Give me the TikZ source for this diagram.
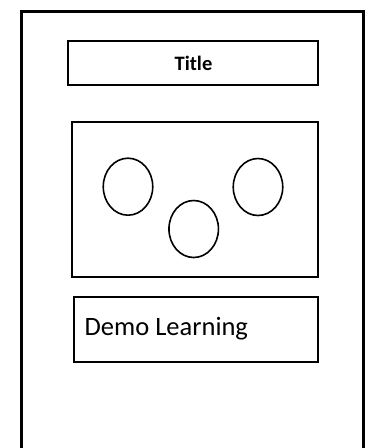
\documentclass[tikz,border=0pt]{standalone}
\usepackage{fontspec}
\setmainfont{Carlito}
\usetikzlibrary{shapes.geometric}
\begin{document}
\begin{tikzpicture}[x=1pt,y=-1pt,
  box/.style={draw=black,line width=#1,inner sep=0pt,rectangle},
  oval/.style={draw=black,line width=1.6pt,ellipse,inner sep=0pt,minimum width=49.5pt,minimum height=57pt}]
\useasboundingbox (0,0) rectangle (365,448);
\clip (0,0) rectangle (365,448);
\fill[white] (0,0) rectangle (365,448);
% outer frame
\draw[line width=3pt] (21.5,470) -- (21.5,11.5) -- (363.8,11.5) -- (363.8,470);
% title box
\node[box=2.2pt,minimum width=250pt,minimum height=44pt] (title) at (193,63) {};
\node[anchor=base,font=\fontsize{20.5}{24}\selectfont\bfseries,inner sep=0pt] (titletext) at (193.5,70.7) {Title};
% image box
\node[box=1.5pt,minimum width=246pt,minimum height=155pt] (image) at (195,199.5) {};
\node[oval] (c1) at (128,186.7) {};
\node[oval] (c2) at (193.7,229) {};
\node[oval] (c3) at (258,187) {};
% demo box
\node[box=2pt,minimum width=244pt,minimum height=65pt] (demo) at (196,329.3) {};
\node[anchor=base west,font=\fontsize{26.5}{30}\selectfont,inner sep=0pt] (demotext) at (84.5,335) {Demo Learning};
\end{tikzpicture}
\end{document}
